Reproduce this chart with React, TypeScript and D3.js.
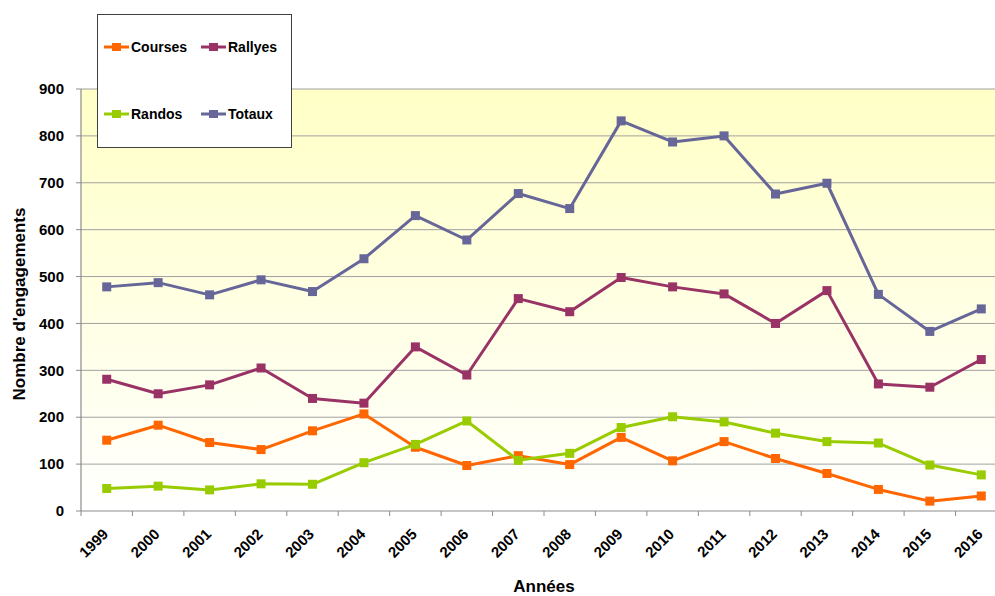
import React from 'react';
import * as d3 from 'd3';

const years = ['1999', '2000', '2001', '2002', '2003', '2004', '2005', '2006', '2007', '2008', '2009', '2010', '2011', '2012', '2013', '2014', '2015', '2016'];
const courses = [151, 183, 146, 131, 171, 207, 136, 97, 118, 99, 157, 107, 148, 112, 80, 46, 21, 32];
const rallyes = [281, 250, 269, 305, 240, 230, 350, 290, 453, 425, 498, 478, 463, 400, 470, 271, 264, 323];
const randos = [48, 53, 45, 58, 57, 103, 142, 192, 108, 123, 178, 201, 190, 166, 148, 145, 98, 77];
const totaux = [478, 487, 461, 493, 468, 538, 630, 578, 677, 645, 832, 787, 800, 676, 699, 462, 383, 431];
const yTicks = [0, 100, 200, 300, 400, 500, 600, 700, 800, 900];

const series = [
  { name: 'Courses', values: courses, color: '#FF6600' },
  { name: 'Rallyes', values: rallyes, color: '#993366' },
  { name: 'Randos', values: randos, color: '#99CC00' },
  { name: 'Totaux', values: totaux, color: '#666699' },
];

const W = 995;
const H = 596;
const left = 81;
const right = 1007; // plot runs past the window edge, as in the source
const top = 89;
const bottom = 511;
const font = 'Liberation Sans, Arial, sans-serif';

export default function App() {
  const x = d3.scaleBand<string>().domain(years).range([left, right]);
  const y = d3.scaleLinear().domain([0, 900]).range([bottom, top]);
  const cx = (yr: string) => (x(yr) ?? 0) + x.bandwidth() / 2;

  const line = d3.line<number>()
    .x((_, i) => cx(years[i]))
    .y(d => y(d));

  const legendPos = [
    { x: 104, y: 47 },
    { x: 201, y: 47 },
    { x: 104, y: 114 },
    { x: 201, y: 114 },
  ];

  return (
    <svg width={W} height={H} style={{ position: 'absolute', left: 0, top: 0 }} fontFamily={font}>
      <defs>
        <linearGradient id="bg" x1="0" y1="0" x2="0" y2="1">
          <stop offset="0%" stopColor="#FFFFC6" />
          <stop offset="100%" stopColor="#FFFFFF" />
        </linearGradient>
      </defs>
      <rect x={0} y={0} width={W} height={H} fill="#fff" />
      <rect x={left} y={top} width={right - left} height={bottom - top} fill="url(#bg)" />

      {/* grid */}
      {yTicks.filter(t => t > 0).map(t => (
        <line key={t} x1={left} x2={right} y1={y(t)} y2={y(t)} stroke="#A0A0A0" strokeWidth={1} />
      ))}

      {/* axes */}
      <line x1={left} x2={left} y1={top} y2={bottom} stroke="#8C8C8C" strokeWidth={1.2} />
      <line x1={left} x2={right} y1={bottom} y2={bottom} stroke="#8C8C8C" strokeWidth={1.2} />
      {yTicks.map(t => (
        <g key={t}>
          <line x1={left - 5} x2={left} y1={y(t)} y2={y(t)} stroke="#8C8C8C" />
          <text x={64} y={y(t)} dy="0.35em" textAnchor="end" fontSize={15} fontWeight="bold">{t}</text>
        </g>
      ))}
      {years.map(yr => (
        <line key={yr} x1={x(yr)} x2={x(yr)} y1={bottom} y2={bottom + 5} stroke="#8C8C8C" />
      ))}
      {years.map(yr => (
        <text
          key={yr}
          transform={`translate(${cx(yr) + 2.5},535) rotate(-45)`}
          textAnchor="end"
          fontSize={15}
          fontWeight="bold"
        >{yr}</text>
      ))}

      <text x={544} y={592} textAnchor="middle" fontSize={17} fontWeight="bold">Années</text>
      <text transform={`translate(25,304) rotate(-90)`} textAnchor="middle" fontSize={17} fontWeight="bold">Nombre d'engagements</text>

      {/* series */}
      {series.map(s => (
        <g key={s.name}>
          <path d={line(s.values) ?? ''} fill="none" stroke={s.color} strokeWidth={3} strokeLinejoin="round" />
          {s.values.map((v, i) => (
            <rect key={i} x={cx(years[i]) - 4.5} y={y(v) - 4.5} width={9} height={9} fill={s.color} />
          ))}
        </g>
      ))}

      {/* legend */}
      <rect x={97.5} y={14.5} width={194} height={133} fill="#fff" stroke="#404040" strokeWidth={1} />
      {series.map((s, i) => {
        const p = legendPos[i];
        return (
          <g key={s.name}>
            <line x1={p.x} x2={p.x + 25} y1={p.y} y2={p.y} stroke={s.color} strokeWidth={3} />
            <rect x={p.x + 8} y={p.y - 4} width={9} height={8} fill={s.color} />
            <text x={p.x + 27} y={p.y} dy="0.35em" fontSize={14} fontWeight="bold">{s.name}</text>
          </g>
        );
      })}
    </svg>
  );
}
